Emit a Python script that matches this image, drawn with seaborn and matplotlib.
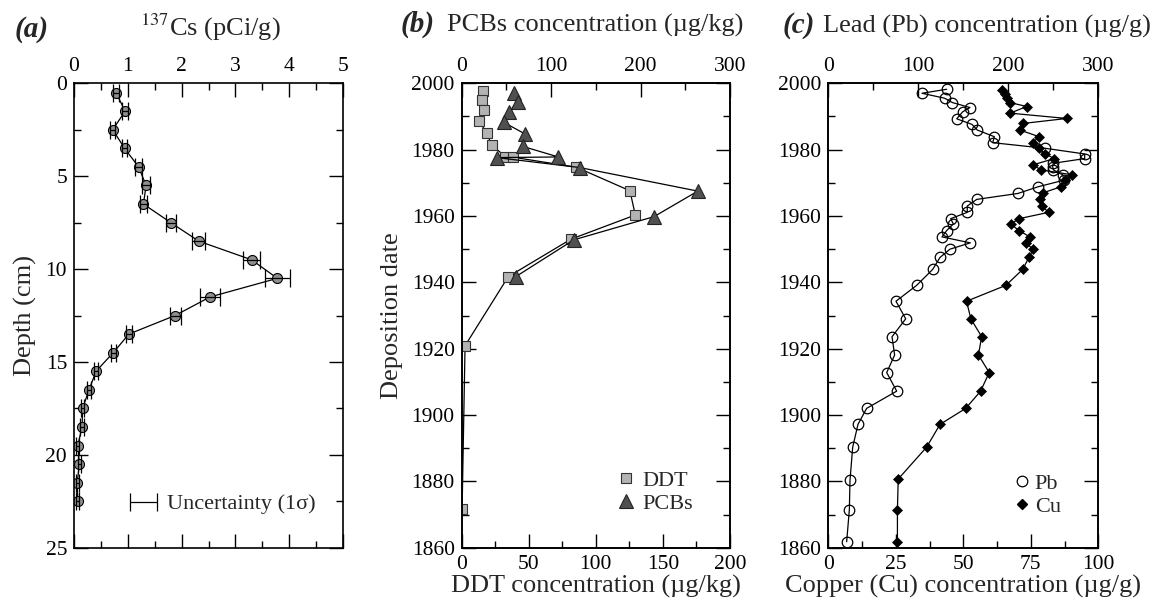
import numpy as np
import matplotlib
matplotlib.use("Agg")
import matplotlib.pyplot as plt
import seaborn as sns
from matplotlib.lines import Line2D
from matplotlib.container import ErrorbarContainer
from matplotlib.legend_handler import HandlerErrorbar
from matplotlib.ticker import MultipleLocator

# ---------------- data ----------------
cs_depth = [0.5, 1.5, 2.5, 3.5, 4.5, 5.5, 6.5, 7.5, 8.5, 9.5, 10.5, 11.5,
            12.5, 13.5, 14.5, 15.5, 16.5, 17.5, 18.5, 19.5, 20.5, 21.5, 22.5]
cs_activity = [0.78, 0.95, 0.72, 0.94, 1.20, 1.34, 1.29, 1.80, 2.32, 3.30, 3.78, 2.53,
               1.88, 1.02, 0.73, 0.41, 0.28, 0.16, 0.15, 0.07, 0.10, 0.06, 0.07]
cs_err = [0.05, 0.05, 0.05, 0.05, 0.06, 0.07, 0.07, 0.09, 0.12, 0.16, 0.23, 0.19,
          0.10, 0.06, 0.05, 0.04, 0.04, 0.03, 0.03, 0.03, 0.03, 0.03, 0.03]

ddt_year = [1997.7, 1995.0, 1992.0, 1988.6, 1985.0, 1981.4, 1977.9, 1977.7, 1974.7,
            1967.6, 1960.3, 1953.0, 1941.7, 1920.9, 1871.6]
ddt_conc = [16.1, 15.4, 16.9, 13.1, 18.6, 22.4, 32.5, 38.5, 85.5,
            125.4, 129.4, 81.4, 34.7, 2.5, 0.3]

pcb_year = [1997.2, 1994.5, 1991.4, 1988.2, 1984.7, 1981.0, 1977.8, 1977.6, 1974.6,
            1967.5, 1959.8, 1952.8, 1941.7]
pcb_conc = [59.0, 62.5, 53.3, 47.3, 71.0, 68.0, 108.0, 39.3, 132.0,
            264.0, 215.0, 125.3, 60.4]

pb_year = [1998.2, 1997.0, 1995.5, 1994.2, 1992.7, 1991.4, 1989.3, 1987.6, 1985.9, 1983.9,
           1982.1, 1980.4, 1978.7, 1977.3, 1975.9, 1974.9, 1973.9, 1972.4, 1970.8, 1968.8,
           1966.8, 1965.0, 1963.0, 1961.1, 1959.2, 1957.6, 1955.6, 1953.7, 1951.9, 1950.0,
           1947.5, 1943.9, 1939.1, 1934.3, 1929.0, 1923.6, 1918.1, 1912.8, 1907.2, 1902.0,
           1897.2, 1890.3, 1880.3, 1871.5, 1861.8]
pb_conc = [131.5, 104.1, 129.3, 137.8, 157.4, 149.3, 142.7, 159.7, 165.6, 184.5,
           182.7, 241.1, 284.9, 284.9, 250.0, 249.3, 250.0, 260.4, 261.9, 233.0,
           210.8, 164.9, 154.4, 154.4, 136.0, 138.9, 131.5, 126.3, 157.8, 135.2,
           124.1, 116.0, 98.2, 75.2, 86.0, 70.8, 73.7, 64.9, 76.0, 42.6,
           33.0, 27.1, 24.1, 23.4, 20.4]

cu_year = [1998.0, 1996.8, 1995.5, 1994.2, 1993.0, 1991.0, 1989.4, 1987.9, 1985.9, 1983.9,
           1982.1, 1980.4, 1978.7, 1977.3, 1975.4, 1973.9, 1972.4, 1970.8, 1968.8, 1967.0,
           1965.0, 1963.0, 1961.1, 1959.2, 1957.6, 1955.6, 1953.7, 1951.9, 1950.0, 1947.5,
           1943.9, 1939.1, 1934.3, 1929.0, 1923.6, 1918.1, 1912.8, 1907.2, 1902.0, 1897.2,
           1890.3, 1880.7, 1871.5, 1861.8]
cu_conc = [64.2, 65.4, 66.3, 67.3, 73.5, 67.3, 88.3, 72.2, 71.0, 78.1,
           75.7, 77.9, 80.4, 83.7, 75.7, 78.8, 90.4, 87.7, 86.1, 79.6,
           78.4, 79.1, 81.6, 70.7, 67.6, 70.6, 74.7, 73.1, 75.9, 74.3,
           72.0, 65.8, 51.2, 52.8, 56.8, 55.6, 59.6, 56.4, 50.9, 41.4,
           36.4, 25.9, 25.6, 25.6]

year_ticks = [1860, 1880, 1900, 1920, 1940, 1960, 1980, 2000]

# ---------------- style ----------------
sns.set_theme(style="ticks")
plt.rcParams["font.family"] = ["Liberation Serif", "DejaVu Serif"]
plt.rcParams["mathtext.fontset"] = "stix"
plt.rcParams["axes.linewidth"] = 1.2

TICK_FS = 15.5
LABEL_FS = 19
LEG_FS = 16

W, H = 1159, 604
fig = plt.figure(figsize=(W / 100, H / 100), dpi=100)


def add_ax(x0, x1, y0=83.3, y1=547.7):
    return fig.add_axes([x0 / W, 1 - y1 / H, (x1 - x0) / W, (y1 - y0) / H])


def style_ticks(ax, axis, **kw):
    ax.tick_params(axis=axis, which="major", direction="in", length=10, width=1.0,
                   labelsize=TICK_FS, pad=5, colors="black", **kw)
    ax.tick_params(axis=axis, which="minor", direction="in", length=5, width=1.0,
                   colors="black", **kw)


# ---------------- panel (a) ----------------
ax_a = add_ax(74, 343)
sns.lineplot(x=cs_activity, y=cs_depth, sort=False, estimator=None, ax=ax_a,
             color="black", lw=0.9, marker="o", markersize=7.2,
             markerfacecolor="#8e8e8e", markeredgecolor="black", markeredgewidth=0.8)
eb = ax_a.errorbar(cs_activity, cs_depth, xerr=cs_err, fmt="none", ecolor="black",
                   elinewidth=0.9, capsize=6.5, capthick=0.9, zorder=5)
ax_a.set_xlim(0, 5)
ax_a.set_ylim(25, 0)
ax_a.xaxis.set_major_locator(MultipleLocator(1))
ax_a.xaxis.set_minor_locator(MultipleLocator(0.5))
ax_a.yaxis.set_major_locator(MultipleLocator(5))
ax_a.yaxis.set_minor_locator(MultipleLocator(2.5))
style_ticks(ax_a, "x", top=True, bottom=True, labeltop=True, labelbottom=False)
style_ticks(ax_a, "y", left=True, right=True)
ax_a.set_ylabel("Depth (cm)", fontsize=LABEL_FS, labelpad=6)
ax_a.set_xlabel("")
ax_a.legend([eb], ["Uncertainty (1\u03c3)"], loc="center left",
            bbox_to_anchor=(0.165, 0.094), frameon=False, fontsize=LEG_FS,
            handlelength=1.25, handletextpad=0.45, borderpad=0,
            handler_map={ErrorbarContainer: HandlerErrorbar(xerr_size=0.6)})

# ---------------- panel (b) ----------------
ax_b = add_ax(461.7, 730)
ax_bt = ax_b.twiny()
sns.lineplot(x=ddt_conc, y=ddt_year, sort=False, estimator=None, ax=ax_b,
             color="black", lw=0.9, marker="s", markersize=7.4,
             markerfacecolor="#b3b3b3", markeredgecolor="#333333", markeredgewidth=0.8)
sns.lineplot(x=pcb_conc, y=pcb_year, sort=False, estimator=None, ax=ax_bt,
             color="black", lw=0.9, marker="^", markersize=10,
             markerfacecolor="#505050", markeredgecolor="#222222", markeredgewidth=0.8)
ax_b.set_xlim(0, 200)
ax_bt.set_xlim(0, 300)
ax_b.set_ylim(1860, 2000)
ax_b.xaxis.set_major_locator(MultipleLocator(50))
ax_b.xaxis.set_minor_locator(MultipleLocator(25))
ax_bt.xaxis.set_major_locator(MultipleLocator(100))
ax_bt.xaxis.set_minor_locator(MultipleLocator(50))
ax_b.set_yticks(year_ticks)
ax_b.yaxis.set_minor_locator(MultipleLocator(10))
style_ticks(ax_b, "x", top=False, bottom=True, labelbottom=True)
style_ticks(ax_bt, "x", top=True, bottom=False, labeltop=True, labelbottom=False)
style_ticks(ax_b, "y", left=True, right=True)
ax_b.set_xlabel("DDT concentration (\u00b5g/kg)", fontsize=LABEL_FS, labelpad=1)
ax_bt.set_xlabel("")
ax_b.set_ylabel("Deposition date", fontsize=LABEL_FS, labelpad=6)
h_ddt = Line2D([], [], ls="none", marker="s", markersize=7.4,
               markerfacecolor="#b3b3b3", markeredgecolor="#333333", markeredgewidth=0.8)
h_pcb = Line2D([], [], ls="none", marker="^", markersize=10,
               markerfacecolor="#505050", markeredgecolor="#222222", markeredgewidth=0.8)
ax_bt.legend([h_ddt, h_pcb], ["DDT", "PCBs"], loc="center left",
             bbox_to_anchor=(0.538, 0.120), frameon=False, fontsize=LEG_FS,
             handlelength=0.8, handletextpad=0.35, borderpad=0, labelspacing=0.12)

# ---------------- panel (c) ----------------
ax_c = add_ax(828.3, 1098.3)
ax_ct = ax_c.twiny()
sns.lineplot(x=cu_conc, y=cu_year, sort=False, estimator=None, ax=ax_c,
             color="black", lw=0.9, marker="D", markersize=5,
             markerfacecolor="black", markeredgecolor="black", markeredgewidth=0.5)
sns.lineplot(x=pb_conc, y=pb_year, sort=False, estimator=None, ax=ax_ct,
             color="black", lw=0.9, marker="o", markersize=7.6,
             markerfacecolor="none", markeredgecolor="black", markeredgewidth=0.9)
ax_c.set_xlim(0, 100)
ax_ct.set_xlim(0, 300)
ax_c.set_ylim(1860, 2000)
ax_c.xaxis.set_major_locator(MultipleLocator(25))
ax_c.xaxis.set_minor_locator(MultipleLocator(12.5))
ax_ct.xaxis.set_major_locator(MultipleLocator(100))
ax_ct.xaxis.set_minor_locator(MultipleLocator(50))
ax_c.set_yticks(year_ticks)
ax_c.yaxis.set_minor_locator(MultipleLocator(10))
style_ticks(ax_c, "x", top=False, bottom=True, labelbottom=True)
style_ticks(ax_ct, "x", top=True, bottom=False, labeltop=True, labelbottom=False)
style_ticks(ax_c, "y", left=True, right=True)
ax_c.set_xlabel("Copper (Cu) concentration (\u00b5g/g)", fontsize=LABEL_FS, labelpad=1)
ax_ct.set_xlabel("")
ax_c.set_ylabel("")
h_pb = Line2D([], [], ls="none", marker="o", markersize=7.6,
              markerfacecolor="none", markeredgecolor="black", markeredgewidth=0.9)
h_cu = Line2D([], [], ls="none", marker="D", markersize=5,
              markerfacecolor="black", markeredgecolor="black")
ax_ct.legend([h_pb, h_cu], ["Pb", "Cu"], loc="center left",
             bbox_to_anchor=(0.645, 0.113), frameon=False, fontsize=LEG_FS,
             handlelength=0.8, handletextpad=0.15, borderpad=0, labelspacing=0.12)

for ax in (ax_a, ax_b, ax_bt, ax_c, ax_ct):
    for s in ax.spines.values():
        s.set_linewidth(1.2)
        s.set_color("black")

# ---------------- panel titles ----------------
def ftxt(x, y, s, **kw):
    fig.text(x / W, 1 - y / H, s, va="baseline", ha="left", **kw)

ftxt(15, 37, "(a)", fontsize=21, fontweight="bold", fontstyle="italic")
fig.text(210 / W, 1 - 36 / H, r"$^{137}$Cs (pCi/g)", va="baseline", ha="center",
         fontsize=LABEL_FS)
ftxt(401, 32, "(b)", fontsize=21, fontweight="bold", fontstyle="italic")
ftxt(447, 32, "PCBs concentration (\u00b5g/kg)", fontsize=LABEL_FS)
ftxt(783, 33, "(c)", fontsize=21, fontweight="bold", fontstyle="italic")
ftxt(823, 33, "Lead (Pb) concentration (\u00b5g/g)", fontsize=LABEL_FS)

fig.savefig("out.png", dpi=100)
